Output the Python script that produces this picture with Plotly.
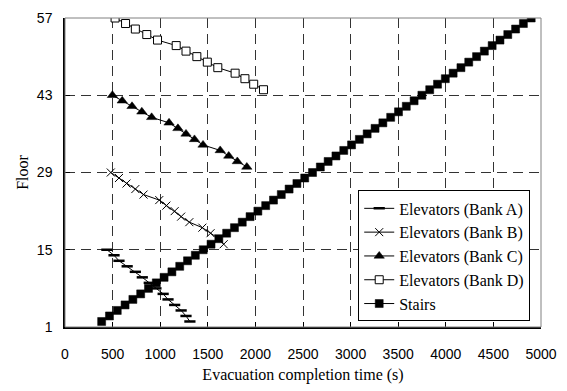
import plotly.graph_objects as go

# ---- data ----
floors_A = [15, 14, 13, 12, 11, 10, 9, 8, 7, 6, 5, 4, 3, 2]
time_A = [440, 515, 567, 653, 739, 812, 885, 955, 1031, 1082, 1152, 1220, 1271, 1312]

floors_B = [29, 28, 27, 26, 25, 24, 23, 22, 21, 20, 19, 18, 17, 16]
time_B = [481, 567, 646, 739, 825, 990, 1065, 1152, 1220, 1306, 1443, 1529, 1615, 1667]

floors_C = [43, 42, 41, 40, 39, 38, 37, 36, 35, 34, 33, 32, 31, 30]
time_C = [498, 601, 704, 807, 910, 1093, 1186, 1271, 1360, 1450, 1630, 1720, 1810, 1910]

floors_D = [57, 56, 55, 54, 53, 52, 51, 50, 49, 48, 47, 46, 45, 44]
time_D = [526, 636, 739, 859, 972, 1168, 1271, 1385, 1495, 1605, 1787, 1890, 1982, 2085]

floors_S = [2, 3, 4, 5, 6, 7, 8, 9, 10, 11, 12, 13, 14, 15, 16, 17, 18, 19, 20,
            21, 22, 23, 24, 25, 26, 27, 28, 29, 30, 31, 32, 33, 34, 35, 36, 37, 38,
            39, 40, 41, 42, 43, 44, 45, 46, 47, 48, 49, 50, 51, 52, 53, 54, 55, 56, 57]
time_S = [385, 467, 549, 631, 713, 795, 877, 959, 1041, 1123, 1205, 1287, 1369,
          1452, 1534, 1616, 1698, 1780, 1862, 1944, 2026, 2108, 2190, 2272, 2354,
          2436, 2518, 2600, 2682, 2764, 2846, 2928, 3010, 3092, 3174, 3257, 3339,
          3421, 3503, 3585, 3667, 3749, 3831, 3913, 3995, 4077, 4159, 4241, 4323,
          4405, 4487, 4569, 4651, 4733, 4815, 4897]

x_ticks = [0, 500, 1000, 1500, 2000, 2500, 3000, 3500, 4000, 4500, 5000]
y_ticks = [1, 15, 29, 43, 57]

SERIF = "Liberation Serif, Times New Roman, serif"
SANS = "Liberation Sans, Arial, sans-serif"

fig = go.Figure()

line_style = dict(color="black", width=1)

fig.add_trace(go.Scatter(
    x=time_A, y=floors_A, mode="lines+markers", name="Elevators (Bank A)",
    line=line_style, legendgroup="a",
    marker=dict(symbol="line-ew", size=8, color="black",
                line=dict(color="black", width=2.5))))
fig.add_trace(go.Scatter(
    x=time_B, y=floors_B, mode="lines+markers", name="Elevators (Bank B)",
    line=line_style, legendgroup="b",
    marker=dict(symbol="x-thin", size=8, color="black",
                line=dict(color="black", width=1))))
fig.add_trace(go.Scatter(
    x=time_C, y=floors_C, mode="lines+markers", name="Elevators (Bank C)",
    line=line_style, legendgroup="c",
    marker=dict(symbol="triangle-up", size=9, color="black",
                line=dict(color="black", width=0.5))))
fig.add_trace(go.Scatter(
    x=time_D, y=floors_D, mode="lines+markers", name="Elevators (Bank D)",
    line=line_style, legendgroup="d",
    marker=dict(symbol="square", size=8, color="white",
                line=dict(color="black", width=1))))
fig.add_trace(go.Scatter(
    x=time_S, y=floors_S, mode="lines+markers", name="Stairs",
    line=line_style, legendgroup="s",
    marker=dict(symbol="square", size=8, color="black",
                line=dict(color="black", width=0.5))))

# gray frame on top / right
fig.add_shape(type="rect", xref="x domain", yref="y domain", x0=0, x1=1, y0=0, y1=1,
              line=dict(color="#808080", width=1), layer="above")

fig.update_layout(
    width=567, height=391,
    margin=dict(l=65, r=17, t=10, b=63),
    paper_bgcolor="white", plot_bgcolor="white",
    font=dict(family=SERIF, color="black", size=14),
    showlegend=True,
    legend=dict(
        x=0.616, y=0.018, xanchor="left", yanchor="bottom",
        bgcolor="white", bordercolor="black", borderwidth=1,
        font=dict(family=SERIF, size=16, color="black"),
        traceorder="grouped", tracegroupgap=0,
        itemwidth=30,
    ),
    xaxis=dict(
        range=[0, 5000], tickvals=x_ticks, ticktext=[str(v) for v in x_ticks],
        ticks="inside", ticklen=5, tickcolor="black", tickwidth=1,
        showline=True, linecolor="black", linewidth=1.5,
        showgrid=True, gridcolor="#333333", gridwidth=1, griddash="10px,6px",
        zeroline=False,
        tickfont=dict(family=SANS, size=14, color="black"),
        ticklabelstandoff=13,
        title=dict(text="Evacuation completion time (s)",
                   font=dict(family=SERIF, size=16, color="black"), standoff=8),
    ),
    yaxis=dict(
        range=[1, 57], tickvals=y_ticks, ticktext=[str(v) for v in y_ticks],
        ticks="inside", ticklen=5, tickcolor="black", tickwidth=1,
        showline=True, linecolor="black", linewidth=1.5,
        showgrid=True, gridcolor="#333333", gridwidth=1, griddash="10px,6px",
        zeroline=False,
        tickfont=dict(family=SANS, size=14, color="black"),
        ticklabelstandoff=8,
        title=dict(text="Floor", font=dict(family=SERIF, size=16, color="black"),
                   standoff=4),
    ),
)

fig.write_html("out.html")
